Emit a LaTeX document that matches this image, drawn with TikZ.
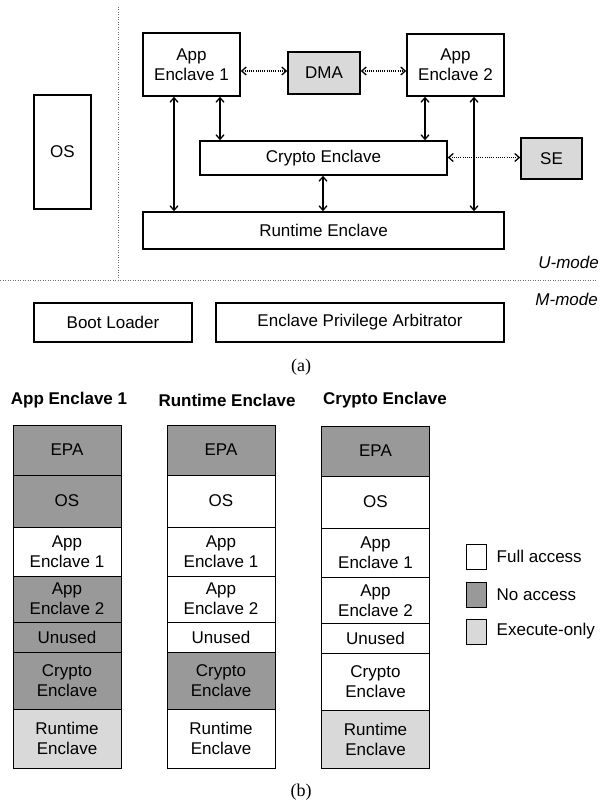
\documentclass[tikz,border=0pt]{standalone}
\usepackage{fontspec}
\setmainfont{Liberation Sans}
\newfontfamily\capfont{Liberation Serif}
\usetikzlibrary{arrows.meta, positioning}
\definecolor{noaccess}{RGB}{153,153,153}
\definecolor{execonly}{RGB}{217,217,217}
\definecolor{dotgray}{RGB}{110,110,110}

\tikzset{
  unit/.style={draw, line width=1.6pt, inner sep=0pt, align=center, font=\fontsize{17}{20}\selectfont},
  hwunit/.style={unit, fill=execonly},
  biarrow/.style={{Straight Barb[length=4.5pt,width=8pt]}-{Straight Barb[length=4.5pt,width=8pt]}, line width=1.3pt},
  dotarrow/.style={biarrow, dash pattern=on 1pt off 1.2pt},
  modesplit/.style={dotgray, line width=1pt, dash pattern=on 1pt off 1.5pt},
  modetext/.style={font=\fontsize{17}{19}\selectfont\itshape, anchor=east, inner sep=0pt},
  cell/.style={draw, line width=1pt, minimum width=108pt, inner sep=0pt, align=center, font=\fontsize{17}{20}\selectfont},
  coltitle/.style={font=\fontsize{17}{19}\selectfont\bfseries, inner sep=0pt},
  legbox/.style={draw, line width=1pt, minimum width=20pt, minimum height=25pt, inner sep=0pt},
  legtext/.style={font=\fontsize{17}{19}\selectfont, inner sep=0pt, anchor=west},
  subcap/.style={font=\fontsize{18}{20}\selectfont\capfont, inner sep=0pt}
}

\begin{document}
\begin{tikzpicture}[x=1pt, y=-1pt]
  \useasboundingbox (0,0) rectangle (602,810);

  % ===== (a) enclave layout =====
  \draw[modesplit] (118,7) -- (118,280);
  \draw[modesplit] (0,280) -- (596,280);
  \node[modetext] (umode) at (599,262) {U-mode};
  \node[modetext] (mmode) at (598,299) {M-mode};

  \node[unit, minimum width=57pt, minimum height=114pt] (os) at (62.5,152) {OS};
  \node[unit, minimum width=97pt, minimum height=63pt] (app1) at (191.5,64.5) {App\\Enclave 1};
  \node[hwunit, minimum width=72pt, minimum height=42pt] (dma) at (324,73) {DMA};
  \node[unit, minimum width=97pt, minimum height=62pt] (app2) at (455.5,65) {App\\Enclave 2};
  \node[unit, minimum width=247pt, minimum height=34pt] (crypto) at (323.5,158) {Crypto Enclave};
  \node[hwunit, minimum width=61pt, minimum height=41pt] (se) at (551.5,158.5) {SE};
  \node[unit, minimum width=361pt, minimum height=37pt] (runtime) at (323.5,230.5) {Runtime Enclave};

  \node[unit, minimum width=158pt, minimum height=39pt] (boot) at (113,322.5) {Boot Loader};
  \node[unit, minimum width=288pt, minimum height=39pt] (epa) at (360,322.5) {Enclave Privilege Arbitrator};

  % dotted links to hardware
  \draw[dotarrow] (app1.east |- 0,71) -- (dma.west |- 0,71);
  \draw[dotarrow] (dma.east |- 0,71) -- (app2.west |- 0,71);
  \draw[dotarrow] (crypto.east |- 0,157.5) -- (se.west |- 0,157.5);

  % enclave links
  \draw[biarrow] (app1.south -| 174,0) -- (runtime.north -| 174,0);
  \draw[biarrow] (app1.south -| 220,0) -- (crypto.north -| 220,0);
  \draw[biarrow] (app2.south -| 425,0) -- (crypto.north -| 425,0);
  \draw[biarrow] (app2.south -| 474,0) -- (runtime.north -| 474,0);
  \draw[biarrow] (crypto.south -| 323,0) -- (runtime.north -| 323,0);

  \node[subcap] (capa) at (301,367) {(a)};

  % ===== (b) access permissions =====
  \node[coltitle] (t1) at (69,400) {App Enclave 1};
  \node[coltitle] (t2) at (227,400) {Runtime Enclave};
  \node[coltitle] (t3) at (385,400) {Crypto Enclave};

  % App Enclave 1 view
  \foreach \yc/\h/\cl/\txt [count=\i] in {450/50/noaccess/EPA, 501/52/noaccess/OS,
      551.5/49/white/{App\\Enclave 1}, 599/46/noaccess/{App\\Enclave 2}, 637/30/noaccess/Unused,
      680.5/57/noaccess/{Crypto\\Enclave}, 738.5/59/execonly/{Runtime\\Enclave}}
    \node[cell, fill=\cl, minimum height=\h pt] (a\i) at (67,\yc) {\txt};

  % Runtime Enclave view
  \foreach \yc/\h/\cl/\txt [count=\i] in {450/50/noaccess/EPA, 501/52/white/OS,
      551.5/49/white/{App\\Enclave 1}, 599/46/white/{App\\Enclave 2}, 637/30/white/Unused,
      680.5/57/noaccess/{Crypto\\Enclave}, 738.5/59/white/{Runtime\\Enclave}}
    \node[cell, fill=\cl, minimum height=\h pt] (r\i) at (221,\yc) {\txt};

  % Crypto Enclave view
  \foreach \yc/\h/\cl/\txt [count=\i] in {451/50/noaccess/EPA, 502/52/white/OS,
      552.5/49/white/{App\\Enclave 1}, 600.5/46/white/{App\\Enclave 2}, 638/30/white/Unused,
      681.5/57/white/{Crypto\\Enclave}, 739/58/execonly/{Runtime\\Enclave}}
    \node[cell, fill=\cl, minimum height=\h pt] (c\i) at (375.5,\yc) {\txt};

  % legend
  \node[legbox, fill=white] (lfull) at (476,556.5) {};
  \node[legbox, fill=noaccess] (lno) at (476,594.5) {};
  \node[legbox, fill=execonly] (lexec) at (476,631.5) {};
  \node[legtext, right=10pt of lfull] (tfull) {Full access};
  \node[legtext, right=10pt of lno] (tno) {No access};
  \node[legtext, right=10pt of lexec] (texec) {Execute-only};

  \node[subcap] (capb) at (301,792) {(b)};
\end{tikzpicture}
\end{document}
